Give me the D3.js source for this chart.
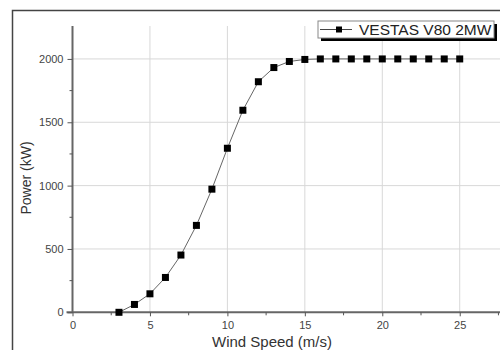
<!DOCTYPE html>
<html>
<head>
<meta charset="utf-8">
<script src="https://cdn.jsdelivr.net/npm/d3@7"></script>
<style>
  body { margin: 0; background: #fff; }
  svg { display: block; font-family: "Liberation Sans", Arial, sans-serif; }
</style>
</head>
<body>
<div id="chart"></div>
<script>
// data
const windSpeed = [3, 4, 5, 6, 7, 8, 9, 10, 11, 12, 13, 14, 15, 16, 17, 18, 19, 20, 21, 22, 23, 24, 25];
const power = [0, 62, 146, 275, 452, 686, 972, 1295, 1595, 1820, 1932, 1980, 1996, 2000, 2000, 2000, 2000, 2000, 2000, 2000, 2000, 2000, 2000];
const xTicks = [0, 5, 10, 15, 20, 25];
const yTicks = [0, 500, 1000, 1500, 2000];
const seriesName = "VESTAS V80 2MW";

const W = 500, H = 350;
const margin = {top: 26, right: 0, bottom: 37.7, left: 72.5};
const width = W - margin.left - margin.right,
      height = H - margin.top - margin.bottom;

const svg = d3.select("#chart")
  .append("svg")
    .attr("width", W)
    .attr("height", H);

// outer frame (top and left edges visible)
svg.append("path")
  .attr("d", "M12.5,350 L12.5,10.5 L500,10.5")
  .attr("fill", "none")
  .attr("stroke", "#444")
  .attr("stroke-width", 1.5);

const g = svg.append("g")
  .attr("transform", "translate(" + margin.left + "," + margin.top + ")");

const x = d3.scaleLinear().domain([0, 27.6]).range([0, width]);
const y = d3.scaleLinear().domain([0, 2260]).range([height, 0]);

// grid
g.append("g")
  .selectAll("line")
  .data(xTicks.filter(d => d > 0))
  .enter().append("line")
    .attr("x1", d => x(d)).attr("x2", d => x(d))
    .attr("y1", 0).attr("y2", height)
    .attr("stroke", "#d8d8d8").attr("stroke-width", 1);
g.append("g")
  .selectAll("line")
  .data(yTicks.filter(d => d > 0))
  .enter().append("line")
    .attr("x1", 0).attr("x2", width)
    .attr("y1", d => y(d)).attr("y2", d => y(d))
    .attr("stroke", "#d8d8d8").attr("stroke-width", 1);

// x axis
const xAxis = g.append("g")
  .attr("transform", "translate(0," + height + ")")
  .call(d3.axisBottom(x).tickValues(xTicks).tickFormat(d3.format("d")).tickSize(4).tickPadding(5));
xAxis.append("g").selectAll("line")
  .data([2.5, 7.5, 12.5, 17.5, 22.5, 27.5])
  .enter().append("line")
    .attr("x1", d => x(d)).attr("x2", d => x(d))
    .attr("y1", 0).attr("y2", 3)
    .attr("stroke", "#555");
xAxis.select(".domain").attr("d", "M" + (-6) + ",0H" + width);

// y axis
const yAxis = g.append("g")
  .call(d3.axisLeft(y).tickValues(yTicks).tickFormat(d3.format("d")).tickSize(5).tickPadding(4));
yAxis.append("g").selectAll("line")
  .data([250, 750, 1250, 1750])
  .enter().append("line")
    .attr("x1", 0).attr("x2", -3)
    .attr("y1", d => y(d)).attr("y2", d => y(d))
    .attr("stroke", "#555");
yAxis.select(".domain").attr("d", "M0,0V" + height);

g.selectAll(".domain").attr("stroke", "#666").attr("stroke-width", 2);
g.selectAll(".tick line").attr("stroke", "#555");
g.selectAll(".tick text").attr("fill", "#444").style("font-size", "11px");

// line + markers
g.append("path")
  .datum(windSpeed.map((d, i) => [d, power[i]]))
  .attr("fill", "none")
  .attr("stroke", "#666")
  .attr("stroke-width", 1)
  .attr("d", d3.line().x(d => x(d[0])).y(d => y(d[1])));

g.append("g")
  .selectAll("rect")
  .data(windSpeed)
  .enter().append("rect")
    .attr("x", (d) => x(d) - 3.5)
    .attr("y", (d, i) => y(power[i]) - 3.5)
    .attr("width", 7).attr("height", 7)
    .attr("fill", "#000");

// axis labels
svg.append("text")
  .attr("x", 272).attr("y", 347)
  .attr("text-anchor", "middle")
  .attr("fill", "#333")
  .style("font-size", "15px")
  .text("Wind Speed (m/s)");
svg.append("text")
  .attr("transform", "translate(31,178) rotate(-90)")
  .attr("text-anchor", "middle")
  .attr("fill", "#333")
  .style("font-size", "14px")
  .text("Power (kW)");

// legend with drop shadow
const lg = svg.append("g").attr("transform", "translate(318,21)");
lg.append("rect")
  .attr("x", 3).attr("y", 3).attr("width", 176).attr("height", 17)
  .attr("fill", "#000");
lg.append("rect")
  .attr("x", 0).attr("y", 0).attr("width", 176).attr("height", 17)
  .attr("fill", "#fff").attr("stroke", "#888").attr("stroke-width", 1);
lg.append("line")
  .attr("x1", 2).attr("x2", 34).attr("y1", 8.5).attr("y2", 8.5)
  .attr("stroke", "#444");
lg.append("rect")
  .attr("x", 18).attr("y", 5.5).attr("width", 6).attr("height", 6)
  .attr("fill", "#000");
lg.append("text")
  .attr("x", 41).attr("y", 14)
  .attr("fill", "#222")
  .style("font-size", "15.5px")
  .text(seriesName);
</script>
</body>
</html>
